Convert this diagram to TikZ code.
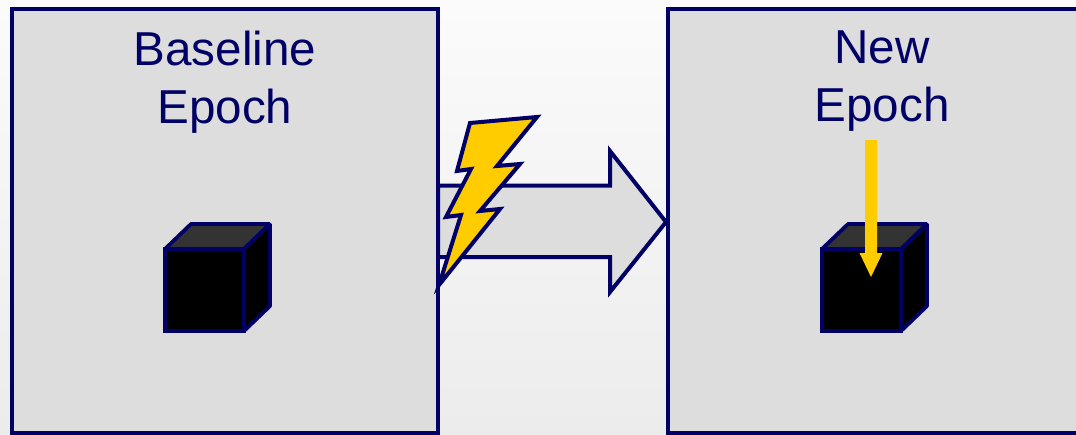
\documentclass[tikz,border=0pt]{standalone}
\usepackage{fontspec}
\setmainfont{Liberation Sans}
\definecolor{navy}{HTML}{000066}
\definecolor{panel}{HTML}{DDDDDD}
\definecolor{bolt}{HTML}{FFCC00}
\definecolor{lid}{HTML}{333333}
\tikzset{
  panelbox/.style={draw=navy,fill=panel,line width=3.8pt,miter limit=10},
  title/.style={text=navy,font=\fontsize{47.6}{58}\selectfont,align=center,inner sep=0pt,anchor=north},
  cubeline/.style={draw=navy,line width=3.8pt,line join=bevel},
  outline/.style={draw=navy,line width=4pt,miter limit=10},
}
\begin{document}
\begin{tikzpicture}[x=1pt,y=-1pt]
\path[use as bounding box] (0,0) rectangle (1076,434);
\begin{scope}
\clip (0,0) rectangle (1076,434);
\shade[top color=white!98.5!black,bottom color=white!92.5!black] (0,0) rectangle (1076,434);
\draw[panelbox] (12,9) rectangle (438,433);
\draw[panelbox] (668,9) rectangle (1080,433);
\end{scope}
\node[title] (baseline) at (225,31) {Baseline\\Epoch};
\node[title] (new) at (882,31) {New\\Epoch};
% big arrow
\draw[outline,fill=panel]
  (438,185.5) -- (610,185.5) -- (610,151) -- (666,222) -- (610,292) -- (610,257) -- (438,257) -- cycle;
% bolt
\draw[outline,fill=bolt]
  (470,123) -- (537,117) -- (497,166) -- (520,164) -- (480,211) -- (500,209) -- (439,285)
  -- (461,215) -- (446,217) -- (471,169) -- (457,171) -- cycle;
% cubes
\foreach \dx/\nm in {0/a,657/b}{
\begin{scope}[xshift=\dx pt]
\fill[black] (165,249) -- (191,223) -- (271,223) -- (271,306) -- (244,332) -- (165,332) -- cycle;
\path[cubeline,fill=lid] (165,249) -- (191,224) -- (270,224) -- (244,249) -- cycle;
\draw[cubeline,line join=miter] (165,249) rectangle (244,331);
\draw[cubeline] (244,249) -- (270,224) -- (270,306) -- (244,331);
\end{scope}}
% yellow arrow
\fill[bolt] (865,140) -- (877,140) -- (877,253) -- (882.5,253) -- (871,277) -- (859.5,253) -- (865,253) -- cycle;
\end{tikzpicture}
\end{document}
